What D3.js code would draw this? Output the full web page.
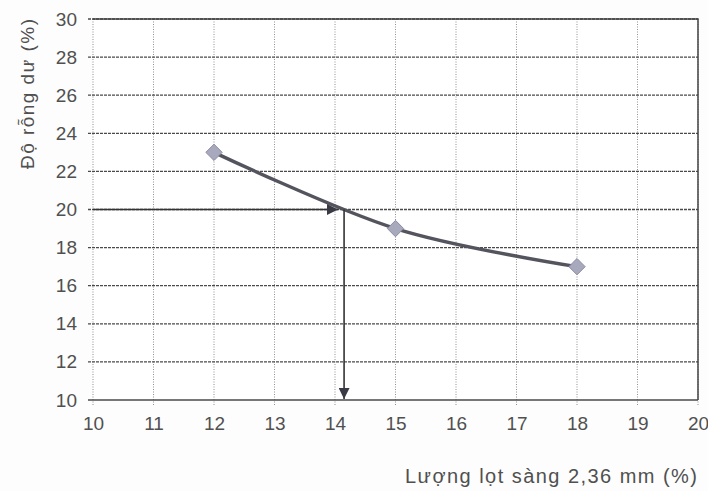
<!DOCTYPE html>
<html>
<head>
<meta charset="utf-8">
<script src="https://cdn.jsdelivr.net/npm/d3@7"></script>
<style>
  html, body { margin: 0; padding: 0; background: #fdfdfd; }
  svg { display: block; }
  text { font-family: "Liberation Sans", Arial, sans-serif; fill: #505050; }
</style>
</head>
<body>
<svg id="chart" width="708" height="491"></svg>
<script>
// ---- data ----
const xValues = [12, 15, 18];            // Lượng lọt sàng 2,36 mm (%)
const yValues = [23, 19, 17];            // Độ rỗng dư (%)
const xTickValues = [10, 11, 12, 13, 14, 15, 16, 17, 18, 19, 20];
const yTickValues = [10, 12, 14, 16, 18, 20, 22, 24, 26, 28, 30];
const arrowHorizontal = [10, 14.05, 20];   // x from, x to, y
const arrowVertical = [14.15, 20, 10];     // x, y from, y to
const xLabel = "Lượng lọt sàng 2,36 mm (%)";
const yLabel = "Độ rỗng dư (%)";

// ---- layout ----
const svg = d3.select("#chart");
const pLeft = 93, pRight = 698, pTop = 19, pBottom = 400;

const x = d3.scaleLinear().domain([10, 20]).range([pLeft, pRight]);
const y = d3.scaleLinear().domain([10, 30]).range([pBottom, pTop]);

// plot background
svg.append("rect").attr("x", pLeft).attr("y", pTop)
  .attr("width", pRight - pLeft).attr("height", pBottom - pTop)
  .attr("fill", "#ffffff");

// vertical gridlines (light dotted)
svg.append("g").selectAll("line").data(xTickValues).join("line")
  .attr("x1", d => x(d)).attr("x2", d => x(d))
  .attr("y1", pTop).attr("y2", pBottom + 6)
  .attr("stroke", "#909090").attr("stroke-width", 1)
  .attr("stroke-dasharray", "1,1.5");

// horizontal gridlines (darker dashed)
svg.append("g").selectAll("line").data(yTickValues).join("line")
  .attr("x1", pLeft - 5).attr("x2", pRight)
  .attr("y1", d => y(d)).attr("y2", d => y(d))
  .attr("stroke", "#4a4a4a").attr("stroke-width", 1.3)
  .attr("stroke-dasharray", d => (d === 10 ? null : "3,1"));

// top & right border
svg.append("path")
  .attr("d", `M${pLeft},${pTop}H${pRight}V${pBottom}`)
  .attr("fill", "none").attr("stroke", "#444").attr("stroke-width", 1.5);

// axes with d3 axis generators (labels only)
const xAxis = d3.axisBottom(x).tickValues(xTickValues).tickSize(0).tickPadding(17)
  .tickFormat(d3.format("d"));
const yAxis = d3.axisLeft(y).tickValues(yTickValues).tickSize(0).tickPadding(16)
  .tickFormat(d3.format("d"));

const gx = svg.append("g").attr("transform", `translate(0,${pBottom})`).call(xAxis);
const gy = svg.append("g").attr("transform", `translate(${pLeft},0)`).call(yAxis);
[gx, gy].forEach(g => {
  g.select(".domain").remove();
  g.selectAll("text").attr("font-size", 19)
    .attr("font-family", "'Liberation Sans', Arial, sans-serif")
    .attr("fill", "#505050");
});

// series curve
const pts = xValues.map((v, i) => [v, yValues[i]]);
const line = d3.line().x(d => x(d[0])).y(d => y(d[1])).curve(d3.curveCardinal.tension(0));
svg.append("path").datum(pts)
  .attr("d", line)
  .attr("fill", "none").attr("stroke", "#54545f").attr("stroke-width", 3.4)
  .attr("stroke-linecap", "round");

// markers (diamonds)
svg.append("g").selectAll("path").data(pts).join("path")
  .attr("transform", d => `translate(${x(d[0])},${y(d[1])})`)
  .attr("d", d3.symbol(d3.symbolDiamond2, 170))
  .attr("fill", "#a9a9bd").attr("stroke", "#8c8ca2").attr("stroke-width", 1);

// arrows
const defs = svg.append("defs");
defs.append("marker").attr("id", "arrow")
  .attr("viewBox", "0 0 10 10").attr("refX", 10).attr("refY", 5)
  .attr("markerUnits", "userSpaceOnUse")
  .attr("markerWidth", 12).attr("markerHeight", 11).attr("orient", "auto")
  .append("path").attr("d", "M0,0L10,5L0,10Z").attr("fill", "#3a3a44");

svg.append("line")
  .attr("x1", x(arrowHorizontal[0])).attr("x2", x(arrowHorizontal[1]))
  .attr("y1", y(arrowHorizontal[2])).attr("y2", y(arrowHorizontal[2]))
  .attr("stroke", "#333").attr("stroke-width", 1.6)
  .attr("marker-end", "url(#arrow)");

svg.append("line")
  .attr("x1", x(arrowVertical[0])).attr("x2", x(arrowVertical[0]))
  .attr("y1", y(arrowVertical[1])).attr("y2", y(arrowVertical[2]) - 1)
  .attr("stroke", "#333").attr("stroke-width", 1.6)
  .attr("marker-end", "url(#arrow)");

// axis titles
svg.append("text")
  .attr("x", 697).attr("y", 483)
  .attr("text-anchor", "end")
  .attr("font-size", 20)
  .attr("textLength", 292).attr("lengthAdjust", "spacing")
  .text(xLabel);

svg.append("text")
  .attr("transform", "translate(34,94) rotate(-90)")
  .attr("text-anchor", "middle")
  .attr("font-size", 19)
  .attr("textLength", 150).attr("lengthAdjust", "spacing")
  .text(yLabel);
</script>
</body>
</html>
